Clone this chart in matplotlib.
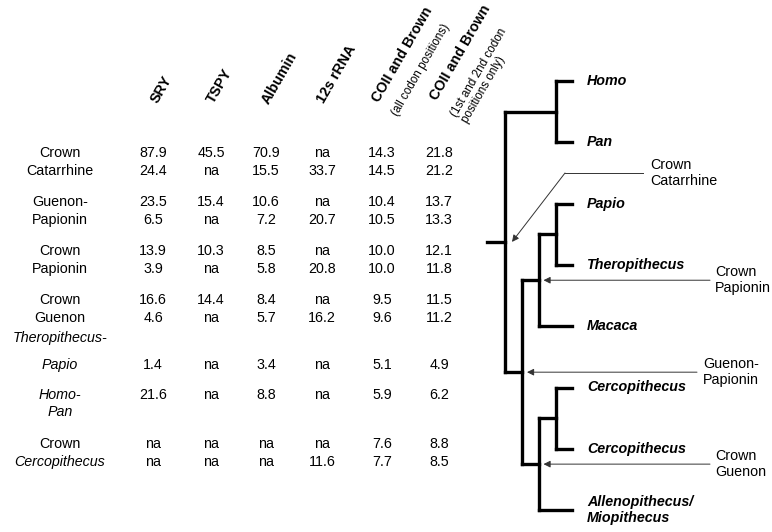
import matplotlib
matplotlib.use("Agg")
import matplotlib.pyplot as plt

plt.rcParams['font.family'] = ['Liberation Sans', 'DejaVu Sans']

# ---------------- data ----------------
columns = ["SRY", "TSPY", "Albumin", "12s rRNA", "COII and Brown", "COII and Brown"]
column_notes = ["", "", "", "", "(all codon positions)", "(1st and 2nd codon\npositions only)"]

group_labels = [
    ["Crown", "Catarrhine"],
    ["Guenon-", "Papionin"],
    ["Crown", "Papionin"],
    ["Crown", "Guenon"],
    ["Theropithecus-", "Papio"],
    ["Homo-", "Pan"],
    ["Crown", "Cercopithecus"],
]
group_label_italic = [
    [False, False], [False, False], [False, False], [False, False],
    [True, True], [True, True], [False, True],
]
values_crown_catarrhine = [["87.9", "45.5", "70.9", "na", "14.3", "21.8"],
                           ["24.4", "na", "15.5", "33.7", "14.5", "21.2"]]
values_guenon_papionin = [["23.5", "15.4", "10.6", "na", "10.4", "13.7"],
                          ["6.5", "na", "7.2", "20.7", "10.5", "13.3"]]
values_crown_papionin = [["13.9", "10.3", "8.5", "na", "10.0", "12.1"],
                         ["3.9", "na", "5.8", "20.8", "10.0", "11.8"]]
values_crown_guenon = [["16.6", "14.4", "8.4", "na", "9.5", "11.5"],
                       ["4.6", "na", "5.7", "16.2", "9.6", "11.2"]]
values_thero_papio = [["1.4", "na", "3.4", "na", "5.1", "4.9"]]
values_homo_pan = [["21.6", "na", "8.8", "na", "5.9", "6.2"]]
values_crown_cercopithecus = [["na", "na", "na", "na", "7.6", "8.8"],
                              ["na", "na", "na", "11.6", "7.7", "8.5"]]
group_values = [values_crown_catarrhine, values_guenon_papionin, values_crown_papionin,
                values_crown_guenon, values_thero_papio, values_homo_pan,
                values_crown_cercopithecus]

# tree topology (nested tuples), tip names
tree = (("Homo", "Pan"),
        ((("Papio", "Theropithecus"), "Macaca"),
         (("Cercopithecus", "Cercopithecus"), "Allenopithecus/\nMiopithecus")))
node_callouts = {
    "root": "Crown\nCatarrhine",
    "papionin": "Crown\nPapionin",
    "cercopithecid": "Guenon-\nPapionin",
    "guenon": "Crown\nGuenon",
}

# ---------------- layout ----------------
W, H = 772, 532
fig = plt.figure(figsize=(W / 100, H / 100), dpi=100)
ax = fig.add_axes([0, 0, 1, 1])
ax.set_xlim(0, W)
ax.set_ylim(H, 0)
ax.axis('off')

FS = 10.3
col_x = [153, 211, 266, 322, 382, 439]
label_x = 60
# y positions of (label line1, label line2) and value rows for each group
label_y = [(153, 171), (202, 220), (251, 269), (300, 318), (338, 365), (395, 412), (444, 462)]
value_y = [[153, 171], [202, 220], [251, 269], [300, 318], [365], [395], [444, 462]]

# headers
head_anchor = [(158, 104), (214, 104), (269, 105), (324, 104), (379, 103), (437, 101)]
note_anchor = [None, None, None, None, (390, 112), (449, 113)]
for name, note, (hx, hy), na in zip(columns, column_notes, head_anchor, note_anchor):
    ax.text(hx, hy, name, rotation=60, rotation_mode='anchor', ha='left', va='baseline',
            fontsize=FS, fontweight='bold')
    if note and na:
        ax.text(na[0], na[1], note, rotation=60, rotation_mode='anchor', ha='left',
                va='top', fontsize=8.4, linespacing=1.05)

# table body
for labels, ital, ly, vals, vy in zip(group_labels, group_label_italic, label_y,
                                      group_values, value_y):
    for text, it, y in zip(labels, ital, ly):
        ax.text(label_x, y, text, ha='center', va='center', fontsize=FS,
                fontstyle='italic' if it else 'normal')
    for row, y in zip(vals, vy):
        for v, x in zip(row, col_x):
            ax.text(x, y, v, ha='center', va='center', fontsize=FS)

# ---------------- tree ----------------
tip_x = 572
tip_y0, tip_dy = 81, 61.3
node_rank_x = {0: 505, 1: 522, 2: 538.5, 3: 555.5}
LW = 2.4

counter = [0]
# rank of each internal node (horizontal placement), by path key
rank = {(): 0, (0,): 3, (1,): 1, (1, 0): 2, (1, 0, 0): 3, (1, 1): 2, (1, 1, 0): 3}
names = {(): "root", (1,): "cercopithecid", (1, 0): "papionin", (1, 1): "guenon"}
node_pos = {}

def layout(n, path):
    if isinstance(n, str):
        i = counter[0]
        counter[0] += 1
        y = tip_y0 + i * tip_dy
        ax.text(tip_x + 15, y, n, ha='left', va='center', fontsize=FS,
                fontweight='bold', fontstyle='italic', linespacing=1.2)
        return tip_x, y
    x = node_rank_x[rank[path]]
    child = [layout(c, path + (k,)) for k, c in enumerate(n)]
    ys = [c[1] for c in child]
    y = (min(ys) + max(ys)) / 2
    ax.plot([x, x], [min(ys), max(ys)], color='black', lw=LW, solid_capstyle='projecting')
    for cx, cy in child:
        ax.plot([x, cx], [cy, cy], color='black', lw=LW, solid_capstyle='projecting')
    if path in names:
        node_pos[names[path]] = (x, y)
    return x, y

rx, ry = layout(tree, ())
ax.plot([487, rx], [ry, ry], color='black', lw=LW, solid_capstyle='projecting')

arrow_kw = dict(arrowstyle='-|>', color='#333333', lw=0.7, mutation_scale=10,
                shrinkA=0, shrinkB=0)
# Crown Catarrhine (bent leader)
nx, ny = node_pos["root"]
ax.plot([643, 565], [173, 173], color='#333333', lw=0.7)
ax.annotate("", xy=(nx + 7, ny), xytext=(565, 173), arrowprops=arrow_kw)
ax.text(650, 173, node_callouts["root"], ha='left', va='center', fontsize=FS,
        linespacing=1.15)

for key, lx, tx in [("papionin", 710, 715), ("cercopithecid", 697, 703), ("guenon", 710, 715)]:
    nx, ny = node_pos[key]
    ax.annotate("", xy=(nx + 5, ny), xytext=(lx, ny), arrowprops=arrow_kw)
    ax.text(tx, ny, node_callouts[key], ha='left', va='center', fontsize=FS,
            linespacing=1.15)

fig.savefig("out.png", dpi=100, facecolor='white')
